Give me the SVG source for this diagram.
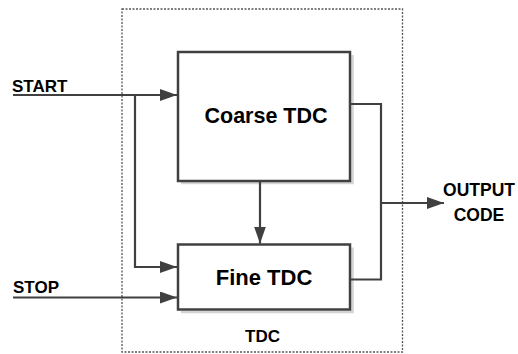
<svg xmlns="http://www.w3.org/2000/svg" width="518" height="354" viewBox="0 0 518 354">
<style>
.frame{fill:none;stroke:#555;stroke-width:1.3;stroke-dasharray:2 1.5}
.box{fill:#fff;stroke:#404040;stroke-width:2.5}
.shadow{fill:none;stroke:#d4d4d4;stroke-width:2.5}
.wire{fill:none;stroke:#404040;stroke-width:2.2}
.lbl{font-family:"Liberation Sans",Arial,sans-serif;font-weight:bold;fill:#000}
</style>
<defs>
<marker id="arr" markerWidth="17" markerHeight="12" refX="17" refY="6" orient="auto" markerUnits="userSpaceOnUse">
<path d="M0,0 L17,6 L0,12 Z" fill="#404040"/>
</marker>
</defs>
<g id="tdc-frame">
<rect class="frame" x="122" y="9" width="280.5" height="343"/>
<text class="lbl" x="262.5" y="342" font-size="17" text-anchor="middle">TDC</text>
</g>
<g id="coarse">
<path class="shadow" d="M352.5,55 V183 H181"/>
<rect class="box" x="178" y="52" width="172" height="129"/>
<text class="lbl" x="266" y="123" font-size="21.5" text-anchor="middle">Coarse TDC</text>
</g>
<g id="fine">
<path class="shadow" d="M352.5,247.5 V312 H181"/>
<rect class="box" x="178" y="244.5" width="172" height="65"/>
<text class="lbl" x="264" y="284.5" font-size="22" text-anchor="middle">Fine TDC</text>
</g>
<g id="start">
<text class="lbl" x="12" y="92" font-size="17">START</text>
</g>
<g id="stop">
<text class="lbl" x="13" y="293" font-size="17">STOP</text>
</g>
<g id="output">
<text class="lbl" x="479" y="196" font-size="17.5" text-anchor="middle">OUTPUT</text>
<text class="lbl" x="479" y="221" font-size="17.5" text-anchor="middle">CODE</text>
</g>
<g id="connectors">
<path class="wire" d="M13,95 H177" marker-end="url(#arr)"/>
<path class="wire" d="M135,95 V267 H177" marker-end="url(#arr)"/>
<path class="wire" d="M13,297.5 H177" marker-end="url(#arr)"/>
<path class="wire" d="M260,181 V243.5" marker-end="url(#arr)"/>
<path class="wire" d="M350,104 H381 V279.5 H350"/>
<path class="wire" d="M381,203 H444" marker-end="url(#arr)"/>
</g>
</svg>
